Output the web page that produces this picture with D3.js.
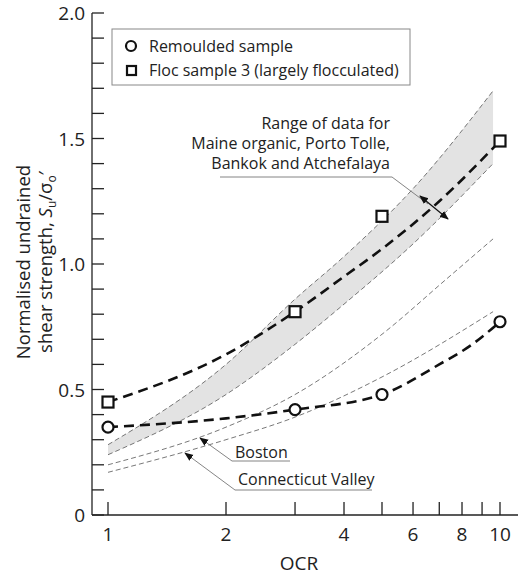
<!DOCTYPE html>
<html><head><meta charset="utf-8">
<script src="https://cdn.jsdelivr.net/npm/d3@7"></script>
<style>body{margin:0;background:#fff}text{font-family:"Open Sans",sans-serif;fill:#222}</style>
</head><body>
<svg id="c" width="520" height="575"></svg>
<script>
// data
var remOcr = [1, 3, 5, 10], remSu = [0.35, 0.42, 0.48, 0.77];
var flocOcr = [1, 3, 5, 10], flocSu = [0.45, 0.81, 1.19, 1.49];
// fitted trend lines (not through every point)
var remFitOcr = [1, 2, 3, 5, 7, 8.5, 10], remFit = [0.35, 0.385, 0.42, 0.48, 0.6, 0.68, 0.77];
var flocFitOcr = [1, 2, 3, 4, 5, 7, 10], flocFit = [0.45, 0.64, 0.81, 0.95, 1.06, 1.25, 1.49];
var bandOcr = [1, 2, 3, 4, 6, 9.6];
var bandHi = [0.28, 0.6, 0.86, 1.03, 1.3, 1.69];
var bandLo = [0.24, 0.48, 0.68, 0.84, 1.08, 1.40];
var bosOcr = [1, 2, 3, 5, 7.3, 9.6], bosSu = [0.2, 0.35, 0.48, 0.72, 0.94, 1.10];
var conOcr = [1, 2, 3, 5, 9.6], conSu = [0.17, 0.3, 0.39, 0.55, 0.81];
var xTicks = [1, 2, 3, 4, 5, 6, 7, 8, 9, 10], xLabels = [1, 2, 4, 6, 8, 10];
var yLabels = [0, 0.5, 1.0, 1.5, 2.0];

var svg = d3.select("#c");
var x = d3.scaleLog().domain([1, 10]).range([108, 500]);
var y = d3.scaleLinear().domain([0, 2]).range([515, 13]);
var pts = function(xs, ys) { return xs.map(function(v, i) { return [v, ys[i]]; }); };
function path(data) {
    var l = d3.line().x(function(d) { return x(d[0]); }).y(function(d) { return y(d[1]); })
        .curve(d3.curveMonotoneX);
    return l(data);
}

// band fill
var area = d3.area().x(function(d) { return x(d[0]); })
    .y0(function(d) { return y(d[1]); }).y1(function(d) { return y(d[2]); })
    .curve(d3.curveMonotoneX);
svg.append("path").attr("d", area(bandOcr.map(function(v, i) { return [v, bandLo[i], bandHi[i]]; })))
    .attr("fill", "#e3e3e3");
[[bandOcr, bandHi], [bandOcr, bandLo], [bosOcr, bosSu], [conOcr, conSu]].forEach(function(s) {
    svg.append("path").attr("d", path(pts(s[0], s[1]))).attr("fill", "none")
        .attr("stroke", "#555").attr("stroke-width", 0.8).attr("stroke-dasharray", "5,3");
});
[[remFitOcr, remFit], [flocFitOcr, flocFit]].forEach(function(s) {
    svg.append("path").attr("d", path(pts(s[0], s[1]))).attr("fill", "none")
        .attr("stroke", "#111").attr("stroke-width", 2.6).attr("stroke-dasharray", "10,6");
});
svg.selectAll(".rem").data(pts(remOcr, remSu)).enter().append("circle")
    .attr("cx", function(d) { return x(d[0]); }).attr("cy", function(d) { return y(d[1]); })
    .attr("r", 5.5).attr("fill", "#fff").attr("stroke", "#111").attr("stroke-width", 2.2);
svg.selectAll(".floc").data(pts(flocOcr, flocSu)).enter().append("rect")
    .attr("x", function(d) { return x(d[0]) - 5.5; }).attr("y", function(d) { return y(d[1]) - 5.5; })
    .attr("width", 11).attr("height", 11).attr("fill", "#fff").attr("stroke", "#111").attr("stroke-width", 2.2);

// axes
var ax = svg.append("g").attr("stroke", "#222").attr("stroke-width", 1.3);
ax.append("line").attr("x1", 92).attr("x2", 92).attr("y1", 13).attr("y2", 515);
ax.append("line").attr("x1", 92).attr("x2", 518).attr("y1", 515).attr("y2", 515);
d3.range(0, 21).forEach(function(i) {
    ax.append("line").attr("x1", 92).attr("x2", 104).attr("y1", y(i / 10)).attr("y2", y(i / 10));
});
xTicks.forEach(function(t) {
    ax.append("line").attr("x1", x(t)).attr("x2", x(t)).attr("y1", 515).attr("y2", 502);
});
svg.selectAll(".yl").data(yLabels).enter().append("text")
    .attr("x", 85).attr("y", function(d) { return y(d) + 7; }).attr("text-anchor", "end")
    .attr("font-size", 19).text(function(d) { return d === 0 ? "0" : d.toFixed(1); });
svg.selectAll(".xl").data(xLabels).enter().append("text")
    .attr("x", function(d) { return x(d); }).attr("y", 541).attr("text-anchor", "middle")
    .attr("font-size", 19).text(function(d) { return d; });
svg.append("text").attr("x", 299).attr("y", 570).attr("text-anchor", "middle")
    .attr("font-size", 19).text("OCR");
var yt = svg.append("text").attr("transform", "translate(30,262) rotate(-90)")
    .attr("text-anchor", "middle").attr("font-size", 18.5);
yt.append("tspan").attr("x", 0).attr("dy", 0).text("Normalised undrained");
var t2 = yt.append("tspan").attr("x", 0).attr("dy", 22);
t2.append("tspan").text("shear strength, ");
t2.append("tspan").attr("font-style", "italic").text("S");
t2.append("tspan").attr("font-size", 12).attr("dy", 4).text("u");
t2.append("tspan").attr("dy", -4).text("/σ");
t2.append("tspan").attr("font-size", 12).attr("dy", 4).text("o");
t2.append("tspan").attr("dy", -4).text("′");

// legend
svg.append("rect").attr("x", 112).attr("y", 29).attr("width", 298).attr("height", 56)
    .attr("fill", "#fff").attr("stroke", "#888").attr("stroke-width", 1);
svg.append("circle").attr("cx", 131).attr("cy", 46).attr("r", 5).attr("fill", "none")
    .attr("stroke", "#111").attr("stroke-width", 2.2);
svg.append("rect").attr("x", 127).attr("y", 66).attr("width", 9).attr("height", 9).attr("fill", "none")
    .attr("stroke", "#111").attr("stroke-width", 2.2);
svg.append("text").attr("x", 149).attr("y", 52).attr("font-size", 16).text("Remoulded sample");
svg.append("text").attr("x", 149).attr("y", 76).attr("font-size", 16).text("Floc sample 3 (largely flocculated)");

// annotations
svg.append("defs").append("marker").attr("id", "ar").attr("viewBox", "0 0 10 10")
    .attr("refX", 9).attr("refY", 5).attr("markerWidth", 9).attr("markerHeight", 9)
    .attr("orient", "auto-start-reverse").attr("markerUnits", "userSpaceOnUse")
    .append("path").attr("d", "M0,1L10,5L0,9Z").attr("fill", "#111");
["Range of data for", "Maine organic, Porto Tolle,", "Bankok and Atchefalaya"].forEach(function(s, i) {
    svg.append("text").attr("x", 390).attr("y", 129 + i * 20).attr("text-anchor", "end")
        .attr("font-size", 16).text(s);
});
svg.append("polyline").attr("points", "220,177 392,177 428,204").attr("fill", "none")
    .attr("stroke", "#777").attr("stroke-width", 0.9);
svg.append("line").attr("x1", 420).attr("y1", 196).attr("x2", 448).attr("y2", 219)
    .attr("stroke", "#111").attr("stroke-width", 1.2)
    .attr("marker-start", "url(#ar)").attr("marker-end", "url(#ar)");
svg.append("text").attr("x", 235).attr("y", 458).attr("font-size", 16).text("Boston");
svg.append("polyline").attr("points", "290,461 232,461 200,438").attr("fill", "none")
    .attr("stroke", "#777").attr("stroke-width", 0.9).attr("marker-end", "url(#ar)");
svg.append("text").attr("x", 238).attr("y", 485).attr("font-size", 16).text("Connecticut Valley");
svg.append("polyline").attr("points", "372,490 235,490 185,453").attr("fill", "none")
    .attr("stroke", "#777").attr("stroke-width", 0.9).attr("marker-end", "url(#ar)");
</script>
</body></html>
